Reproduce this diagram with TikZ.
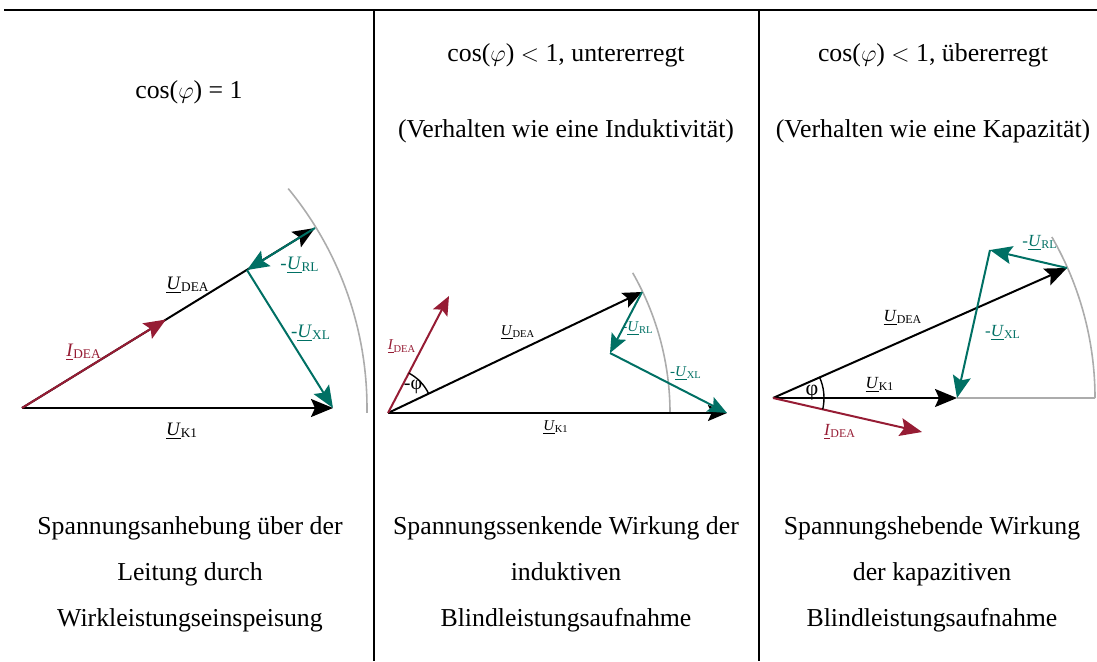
\documentclass[tikz,border=0pt]{standalone}
\usepackage{fontspec}
\setmainfont{Liberation Serif}
\usetikzlibrary{arrows.meta, calc, angles}
\definecolor{deared}{RGB}{150,28,52}
\definecolor{deateal}{RGB}{0,112,100}
\tikzstyle{vec} = [
    line width=1pt,
    -{Stealth[length=11pt,width=9pt,inset=2pt]},
    draw=black
]
\newcommand{\phasor}[2]{\underline{\textit{#1}}\textsubscript{#2}}

\begin{document}
\begin{tikzpicture}[
    x=0.5pt, y=0.5pt,
    every node/.style={
        font=\fontsize{12.9}{15}\selectfont,
        inner sep=1pt
    },
    caption/.style={
        align=center,
        font=\fontsize{12.9}{23}\selectfont
    },
    labbig/.style={font=\fontsize{9.5}{11}\selectfont},
    labmid/.style={font=\fontsize{8.5}{10}\selectfont},
    labsmall/.style={font=\fontsize{7.5}{9}\selectfont},
    small/.style={-{Stealth[length=9.5pt,width=8pt,inset=1.8pt]}},
    current/.style={vec, draw=deared},
    drop/.style={vec, draw=deateal},
    rim/.style={gray!65, line width=0.8pt},
    rule/.style={line width=0.8pt}
]
\useasboundingbox (0,0) rectangle (1097,661);

% Table rules
\coordinate (tl) at (4,651);
\coordinate (tr) at (1097,651);
\draw[rule, line width=1.1pt] (tl) -- (tr);
\foreach \xx [count=\k] in {374,759} {
    \coordinate (top\k) at (\xx,651);
    \coordinate (bot\k) at (\xx,0);
    \draw[rule] (top\k) -- (bot\k);
}

% Titles
\node (t1) at (189,569) {cos($\varphi$) = 1};
\node (t2) at (566,606) {cos($\varphi$) $<$ 1, untererregt};
\node (s2) at (566,530) {(Verhalten wie eine Induktivität)};
\node (t3) at (933,606) {cos($\varphi$) $<$ 1, übererregt};
\node (s3) at (933,530) {(Verhalten wie eine Kapazität)};

% Captions
\node[caption] (c1) at (190,87) {Spannungsanhebung über der\\Leitung durch\\Wirkleistungseinspeisung};
\node[caption] (c2) at (566,87) {Spannungssenkende Wirkung der\\induktiven\\Blindleistungsaufnahme};
\node[caption] (c3) at (932,87) {Spannungshebende Wirkung\\der kapazitiven\\Blindleistungsaufnahme};

% Panel 1: cos = 1
\coordinate (o1) at (22,253);
\coordinate (k1) at (333,253);
\coordinate (d1) at (315,433);
\coordinate (m1) at (247,391);
\coordinate (i1) at (166,341.5);
\draw[rim] ($(o1)+(39.5:172.5pt)$) arc[start angle=39.5, end angle=-0.8, radius=172.5pt];
\draw[vec] (o1) -- (k1);
\draw[vec] (o1) -- (d1);
\draw[current] (o1) -- (i1);
\draw[drop] (d1) -- (m1);
\draw[drop] (m1) -- (k1);
\node[labbig] (u1) at (188,376) {\phasor{U}{DEA}};
\node[labbig, deateal] (r1) at (300,396) {-\phasor{U}{RL}};
\node[labbig, deateal] (x1) at (311,328) {-\phasor{U}{XL}};
\node[labbig, deared] (a1) at (84,309) {\phasor{I}{DEA}};
\node[labbig] (g1) at (182,230) {\phasor{U}{K1}};

% Panel 2: untererregt
\coordinate (o2) at (388,248);
\coordinate (k2) at (727,248);
\coordinate (d2) at (642,369);
\coordinate (m2) at (610,308);
\coordinate (i2) at (449,365);
\draw[rim] ($(o2)+(29.8:141pt)$) arc[start angle=29.8, end angle=0, radius=141pt];
\draw[vec, small] (o2) -- (k2);
\draw[vec, small] (o2) -- (d2);
\draw[current, small] (o2) -- (i2);
\draw[drop, small] (d2) -- (m2);
\draw[drop, small] (m2) -- (k2);
\pic[draw, line width=0.7pt, angle radius=22.5pt] {angle = d2--o2--i2};
\node[labsmall] (u2) at (518,328) {\phasor{U}{DEA}};
\node[labsmall, deared] (a2) at (402,314) {\phasor{I}{DEA}};
\node[font=\fontsize{10}{12}\selectfont] (p2) at (413,274) {-φ};
\node[labsmall, deateal] (r2) at (638,332) {-\phasor{U}{RL}};
\node[labsmall, deateal] (x2) at (686,287) {-\phasor{U}{XL}};
\node[labsmall] (g2) at (556,233) {\phasor{U}{K1}};

% Panel 3: uebererregt
\coordinate (o3) at (773,263);
\coordinate (k3) at (957,263);
\coordinate (e3) at (1095,263);
\coordinate (d3) at (1067,393);
\coordinate (m3) at (990,411);
\coordinate (i3) at (922,229);
\draw[rim] ($(o3)+(30:161pt)$) arc[start angle=30, end angle=0, radius=161pt];
\draw[rim] (k3) -- (e3);
\draw[vec] (o3) -- (k3);
\draw[vec] (o3) -- (d3);
\draw[current] (o3) -- (i3);
\draw[drop] (d3) -- (m3);
\draw[drop] (m3) -- (k3);
\pic[draw, line width=0.7pt, angle radius=25.5pt] {angle = i3--o3--d3};
\node[labmid, deateal] (r3) at (1040,418) {-\phasor{U}{RL}};
\node[labmid] (u3) at (903,343) {\phasor{U}{DEA}};
\node[labmid, deateal] (x3) at (1003,328) {-\phasor{U}{XL}};
\node[labmid] (g3) at (880,276) {\phasor{U}{K1}};
\node[labmid, deared] (a3) at (840,229) {\phasor{I}{DEA}};
\node[font=\fontsize{11}{12}\selectfont] (p3) at (812,268) {φ};
\end{tikzpicture}
\end{document}
